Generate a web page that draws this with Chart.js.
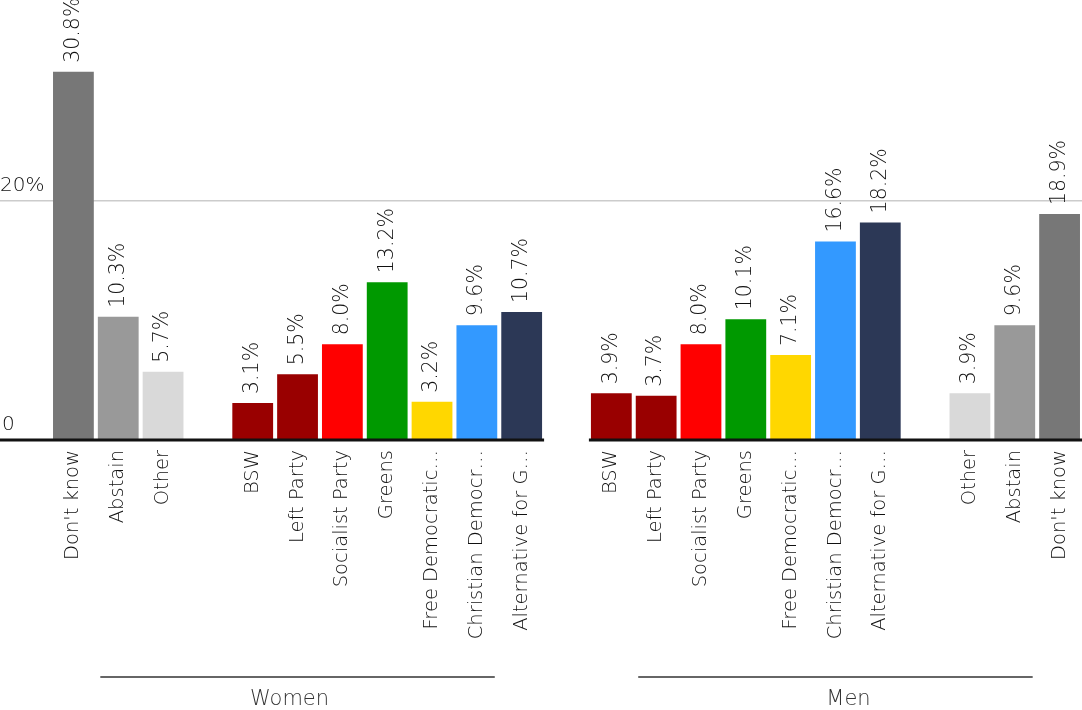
<!DOCTYPE html>
<html>
<head>
<meta charset="utf-8">
<script src="https://cdn.jsdelivr.net/npm/chart.js@4/dist/chart.umd.min.js"></script>
<style>
  html, body { margin: 0; padding: 0; background: #fff; }
  #myChart { display: block; }
</style>
</head>
<body>
<canvas id="myChart" width="1082" height="710"></canvas>
<script>
// datos
const womenCats = ["Don't know", "Abstain", "Other", "", "BSW", "Left Party", "Socialist Party", "Greens", "Free Democratic Party", "Christian Democratic Union", "Alternative for Germany"];
const womenVals = [30.8, 10.3, 5.7, null, 3.1, 5.5, 8.0, 13.2, 3.2, 9.6, 10.7];
const menCats = ["BSW", "Left Party", "Socialist Party", "Greens", "Free Democratic Party", "Christian Democratic Union", "Alternative for Germany", "", "Other", "Abstain", "Don't know"];
const menVals = [3.9, 3.7, 8.0, 10.1, 7.1, 16.6, 18.2, null, 3.9, 9.6, 18.9];
const groupNames = ["Women", "Men"];
const yTicks = [0, 20];

const partyColors = {
    "Don't know": '#777777',
    "Abstain": '#999999',
    "Other": '#d9d9d9',
    "BSW": '#990000',
    "Left Party": '#990000',
    "Socialist Party": '#ff0000',
    "Greens": '#009900',
    "Free Democratic Party": '#ffd700',
    "Christian Democratic Union": '#3399ff',
    "Alternative for Germany": '#2c3856',
    "": '#ffffff'
};

// se arma una sola serie con un hueco entre mujeres y hombres
let labels = womenCats.concat([""], menCats);
let values = womenVals.concat([null], menVals);
let colors = labels.map(function (l) { return partyColors[l]; });
const menStart = womenCats.length + 1;

const familia = '"DejaVu Sans", sans-serif';
const fuenteTicks = '200 19.5px ' + familia;
const fuenteValores = '200 20.5px ' + familia;
const measureCtx = document.createElement('canvas').getContext('2d');
measureCtx.font = fuenteTicks;

function recortar(txt) {
    if (measureCtx.measureText(txt).width <= 190) return txt;
    let s = txt;
    while (s.length > 0 && measureCtx.measureText(s + '…').width > 190) {
        s = s.slice(0, -1);
    }
    return s.replace(/\s+$/, '') + '…';
}

// lineas, etiquetas de eje y etiquetas de grupo
const extras = {
    id: 'extras',
    beforeDatasetsDraw: function (chart) {
        const c = chart.ctx;
        const y = chart.scales.y;
        c.save();
        c.strokeStyle = '#cccccc';
        c.lineWidth = 1.5;
        yTicks.forEach(function (t) {
            if (t === 0) return;
            const py = y.getPixelForValue(t);
            c.beginPath();
            c.moveTo(0, py);
            c.lineTo(chart.width, py);
            c.stroke();
        });
        c.restore();
    },
    afterDatasetsDraw: function (chart) {
        const c = chart.ctx;
        const x = chart.scales.x;
        const y = chart.scales.y;
        const half = (x.getPixelForValue(1) - x.getPixelForValue(0)) / 2;
        const base = y.getPixelForValue(0);
        c.save();

        // linea base cortada entre los dos grupos
        c.strokeStyle = '#111111';
        c.lineWidth = 3;
        c.beginPath();
        c.moveTo(0, base);
        c.lineTo(x.getPixelForValue(womenCats.length - 1) + half, base);
        c.moveTo(x.getPixelForValue(menStart) - half, base);
        c.lineTo(chart.width, base);
        c.stroke();

        // etiquetas del eje y
        c.font = '200 20px ' + familia;
        c.fillStyle = '#111111';
        c.textAlign = 'left';
        c.textBaseline = 'bottom';
        yTicks.forEach(function (t) {
            c.fillText(t === 0 ? '0' : t + '%', t === 0 ? 2 : 0, y.getPixelForValue(t) - 5);
        });

        // valores sobre las barras
        c.font = fuenteValores;
        c.textBaseline = 'middle';
        const meta = chart.getDatasetMeta(0);
        meta.data.forEach(function (bar, i) {
            if (values[i] === null) return;
            c.save();
            c.translate(bar.x, bar.y - 9);
            c.rotate(-Math.PI / 2);
            c.fillText(values[i].toFixed(1) + '%', 0, 0);
            c.restore();
        });

        // grupos
        const grupos = [[0, womenCats.length - 1], [menStart, labels.length - 1]];
        const corrimiento = [-8, 13];
        c.strokeStyle = '#666666';
        c.lineWidth = 2;
        c.font = '200 21px ' + familia;
        c.fillStyle = '#333333';
        c.textAlign = 'center';
        c.textBaseline = 'middle';
        grupos.forEach(function (g, k) {
            const a = x.getPixelForValue(g[0]) - half;
            const b = x.getPixelForValue(g[1]) + half;
            const w = (b - a) * 0.8;
            const mid = (a + b) / 2;
            c.beginPath();
            c.moveTo(mid - w / 2, 677);
            c.lineTo(mid + w / 2, 677);
            c.stroke();
            c.fillText(groupNames[k], mid + corrimiento[k], 700);
        });
        c.restore();
    }
};

const ctx = document.getElementById('myChart');
const myChart = new Chart(ctx, {
    type: 'bar',
    data: {
        labels: labels,
        datasets: [{
            data: values,
            backgroundColor: colors,
            borderWidth: 0,
            barPercentage: 0.91,
            categoryPercentage: 1
        }]
    },
    options: {
        responsive: false,
        animation: false,
        devicePixelRatio: 1,
        layout: { padding: 0 },
        plugins: {
            legend: { display: false },
            tooltip: { enabled: false }
        },
        scales: {
            x: {
                grid: { display: false, drawTicks: false },
                border: { display: false },
                ticks: {
                    minRotation: 90,
                    maxRotation: 90,
                    autoSkip: false,
                    padding: 10,
                    color: '#111111',
                    font: { family: familia, size: 19.5, weight: '200' },
                    callback: function (v, i) { return recortar(labels[i]); }
                },
                afterFit: function (s) {
                    s.height = 270;
                    s.paddingLeft = 0;
                    s.paddingRight = 0;
                }
            },
            y: {
                min: 0,
                max: 36.8,
                grid: { display: false },
                border: { display: false },
                ticks: { display: false },
                afterFit: function (s) { s.width = 51; }
            }
        }
    },
    plugins: [extras]
}); //fin del chart
</script>
</body>
</html>
